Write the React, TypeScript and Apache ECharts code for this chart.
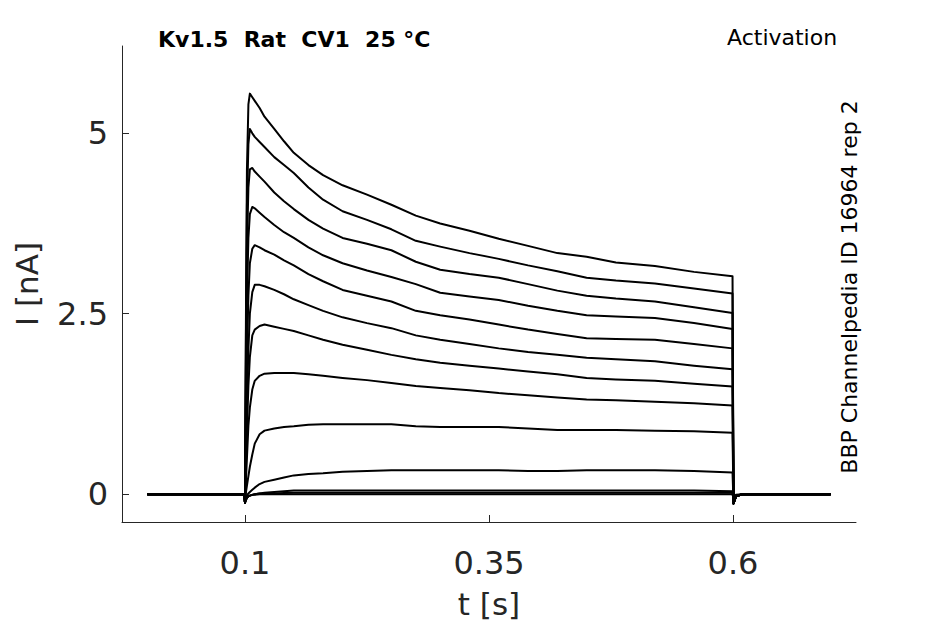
import React, { useEffect, useRef } from "react";
import * as echarts from "echarts";

const TIME = [0, 0.0995, 0.1, 0.101, 0.102, 0.1035, 0.105, 0.1075, 0.11, 0.115, 0.12, 0.13, 0.14, 0.15, 0.165, 0.18, 0.2, 0.225, 0.25, 0.275, 0.3, 0.33, 0.36, 0.39, 0.42, 0.45, 0.48, 0.52, 0.56, 0.5995, 0.6005, 0.603, 0.61, 0.7];

const TRACE_1 = [0, 0, -0.12, 2.5, 4.5, 5.4, 5.55, 5.5, 5.45, 5.35, 5.23, 5.06, 4.89, 4.73, 4.56, 4.42, 4.28, 4.15, 4.01, 3.86, 3.75, 3.65, 3.54, 3.44, 3.34, 3.29, 3.21, 3.16, 3.08, 3.02, -0.13, -0.03, 0, 0];
const TRACE_2 = [0, 0, -0.12, 2.2, 4.0, 4.85, 5.06, 5.0, 4.95, 4.88, 4.81, 4.67, 4.56, 4.45, 4.25, 4.08, 3.92, 3.8, 3.67, 3.51, 3.43, 3.34, 3.26, 3.17, 3.09, 3.0, 2.96, 2.92, 2.85, 2.78, -0.13, -0.03, 0, 0];
const TRACE_3 = [0, 0, -0.12, 1.8, 3.4, 4.25, 4.5, 4.52, 4.47, 4.4, 4.33, 4.18, 4.06, 3.95, 3.8, 3.68, 3.55, 3.47, 3.38, 3.22, 3.11, 3.05, 3.0, 2.91, 2.82, 2.75, 2.71, 2.67, 2.59, 2.51, -0.13, -0.03, 0, 0];
const TRACE_4 = [0, 0, -0.12, 1.4, 2.7, 3.55, 3.88, 3.98, 3.96, 3.9, 3.84, 3.73, 3.63, 3.55, 3.42, 3.31, 3.2, 3.1, 3.01, 2.91, 2.79, 2.74, 2.69, 2.61, 2.54, 2.48, 2.46, 2.44, 2.37, 2.29, -0.13, -0.03, 0, 0];
const TRACE_5 = [0, 0, -0.12, 0.9, 1.9, 2.75, 3.2, 3.4, 3.45, 3.42, 3.38, 3.32, 3.24, 3.17, 3.05, 2.95, 2.83, 2.75, 2.67, 2.54, 2.48, 2.42, 2.35, 2.28, 2.22, 2.16, 2.15, 2.14, 2.08, 2.02, -0.13, -0.03, 0, 0];
const TRACE_6 = [0, 0, -0.12, 0.6, 1.3, 2.0, 2.5, 2.8, 2.9, 2.9, 2.88, 2.83, 2.77, 2.7, 2.62, 2.54, 2.45, 2.37, 2.3, 2.2, 2.14, 2.08, 2.02, 1.97, 1.93, 1.89, 1.87, 1.84, 1.78, 1.73, -0.13, -0.03, 0, 0];
const TRACE_7 = [0, 0, -0.12, 0.4, 0.9, 1.5, 1.9, 2.2, 2.28, 2.33, 2.35, 2.32, 2.29, 2.26, 2.2, 2.14, 2.07, 2.0, 1.93, 1.87, 1.82, 1.78, 1.74, 1.7, 1.66, 1.61, 1.59, 1.57, 1.53, 1.49, -0.13, -0.03, 0, 0];
const TRACE_8 = [0, 0, -0.12, 0.2, 0.5, 0.95, 1.2, 1.45, 1.57, 1.64, 1.67, 1.68, 1.68, 1.68, 1.66, 1.64, 1.61, 1.58, 1.54, 1.5, 1.47, 1.44, 1.4, 1.37, 1.34, 1.31, 1.3, 1.28, 1.26, 1.23, -0.13, -0.03, 0, 0];
const TRACE_9 = [0, 0, -0.12, 0.03, 0.12, 0.25, 0.38, 0.55, 0.7, 0.83, 0.88, 0.91, 0.93, 0.94, 0.96, 0.97, 0.97, 0.97, 0.97, 0.94, 0.93, 0.93, 0.93, 0.91, 0.89, 0.89, 0.89, 0.88, 0.87, 0.85, -0.13, -0.03, 0, 0];
const TRACE_10 = [0, 0, -0.12, -0.05, -0.02, 0.01, 0.03, 0.06, 0.09, 0.14, 0.17, 0.2, 0.23, 0.26, 0.28, 0.29, 0.31, 0.32, 0.33, 0.33, 0.33, 0.33, 0.33, 0.32, 0.32, 0.33, 0.33, 0.33, 0.32, 0.3, -0.12, -0.03, 0, 0];
const TRACE_11 = [0, 0, -0.12, -0.08, -0.05, -0.03, -0.02, -0.01, 0, 0.01, 0.02, 0.03, 0.04, 0.05, 0.05, 0.05, 0.05, 0.05, 0.05, 0.05, 0.05, 0.05, 0.05, 0.05, 0.05, 0.05, 0.05, 0.05, 0.05, 0.04, -0.1, -0.02, 0, 0];
const TRACE_12 = [0, 0, -0.12, -0.08, -0.05, -0.03, -0.02, -0.01, 0, 0.01, 0.01, 0.01, 0.015, 0.02, 0.02, 0.02, 0.02, 0.02, 0.02, 0.02, 0.02, 0.02, 0.02, 0.02, 0.02, 0.02, 0.02, 0.02, 0.02, 0.02, -0.08, -0.02, 0, 0];
const TRACE_13 = [0, 0, -0.12, -0.08, -0.05, -0.03, -0.02, -0.01, -0.01, 0, 0, 0, 0, 0, 0, 0, 0, 0, 0, 0, 0, 0, 0, 0, 0, 0, 0, 0, 0, 0, -0.06, -0.01, 0, 0];

const TRACES = [TRACE_1, TRACE_2, TRACE_3, TRACE_4, TRACE_5, TRACE_6, TRACE_7, TRACE_8, TRACE_9, TRACE_10, TRACE_11, TRACE_12, TRACE_13];

const X_TICKS = [0.1, 0.35, 0.6];
const Y_TICKS = [0, 2.5, 5];

const TITLE = "Kv1.5  Rat  CV1  25 °C";
const PROTOCOL = "Activation";
const SOURCE = "BBP Channelpedia ID 16964 rep 2";

const FONT = "'DejaVu Sans', sans-serif";
const AXIS_COLOR = "#262626";

export default function App() {
  const ref = useRef<HTMLDivElement>(null);
  useEffect(() => {
    if (!ref.current) return;
    const chart = echarts.init(ref.current, undefined, { renderer: "svg" });
    const series = TRACES.map((tr, i) => ({
      type: "line",
      name: "trace" + (i + 1),
      data: TIME.map((t, j) => [t, tr[j]]),
      showSymbol: false,
      symbol: "none",
      lineStyle: { color: "#000", width: 2, join: "round" },
      z: 2,
    }));
    chart.setOption({
      animation: false,
      backgroundColor: "#fff",
      textStyle: { fontFamily: FONT },
      grid: { left: 122, right: 89, top: 46, bottom: 99, containLabel: false },
      xAxis: {
        type: "value",
        min: -0.026,
        max: 0.726,
        name: "t [s]",
        nameLocation: "middle",
        nameGap: 66,
        nameTextStyle: { fontSize: 31, color: AXIS_COLOR, fontFamily: FONT },
        splitLine: { show: false },
        axisLine: { show: true, onZero: false, lineStyle: { color: AXIS_COLOR, width: 1 } },
        axisTick: { show: true, inside: true, length: 7, customValues: X_TICKS, lineStyle: { color: AXIS_COLOR } },
        axisLabel: { customValues: X_TICKS, fontSize: 32, color: AXIS_COLOR, margin: 25, fontFamily: FONT },
      },
      yAxis: {
        type: "value",
        min: -0.386,
        max: 6.21,
        name: "I [nA]",
        nameLocation: "middle",
        nameRotate: 90,
        nameGap: 80,
        nameTextStyle: { fontSize: 31, color: AXIS_COLOR, fontFamily: FONT },
        splitLine: { show: false },
        axisLine: { show: true, onZero: false, lineStyle: { color: AXIS_COLOR, width: 1 } },
        axisTick: { show: true, inside: true, length: 7, customValues: Y_TICKS, lineStyle: { color: AXIS_COLOR } },
        axisLabel: { customValues: Y_TICKS, fontSize: 32, color: AXIS_COLOR, margin: 14, fontFamily: FONT },
      },
      graphic: [
        {
          type: "text",
          left: 158,
          top: 28,
          style: { text: TITLE, font: "bold 22px 'DejaVu Sans', sans-serif", fill: "#000" },
        },
        {
          type: "text",
          left: 727,
          top: 26,
          style: { text: PROTOCOL, font: "22px 'DejaVu Sans', sans-serif", fill: "#000" },
        },
        {
          type: "text",
          x: 849,
          y: 287,
          rotation: Math.PI / 2,
          style: {
            text: SOURCE,
            font: "22px 'DejaVu Sans', sans-serif",
            fill: "#000",
            align: "center",
            verticalAlign: "middle",
          },
        },
      ],
      series,
    });
    return () => chart.dispose();
  }, []);
  return (
    <div
      ref={ref}
      style={{ position: "fixed", left: 0, top: 0, width: 945, height: 624, background: "#fff" }}
    />
  );
}
